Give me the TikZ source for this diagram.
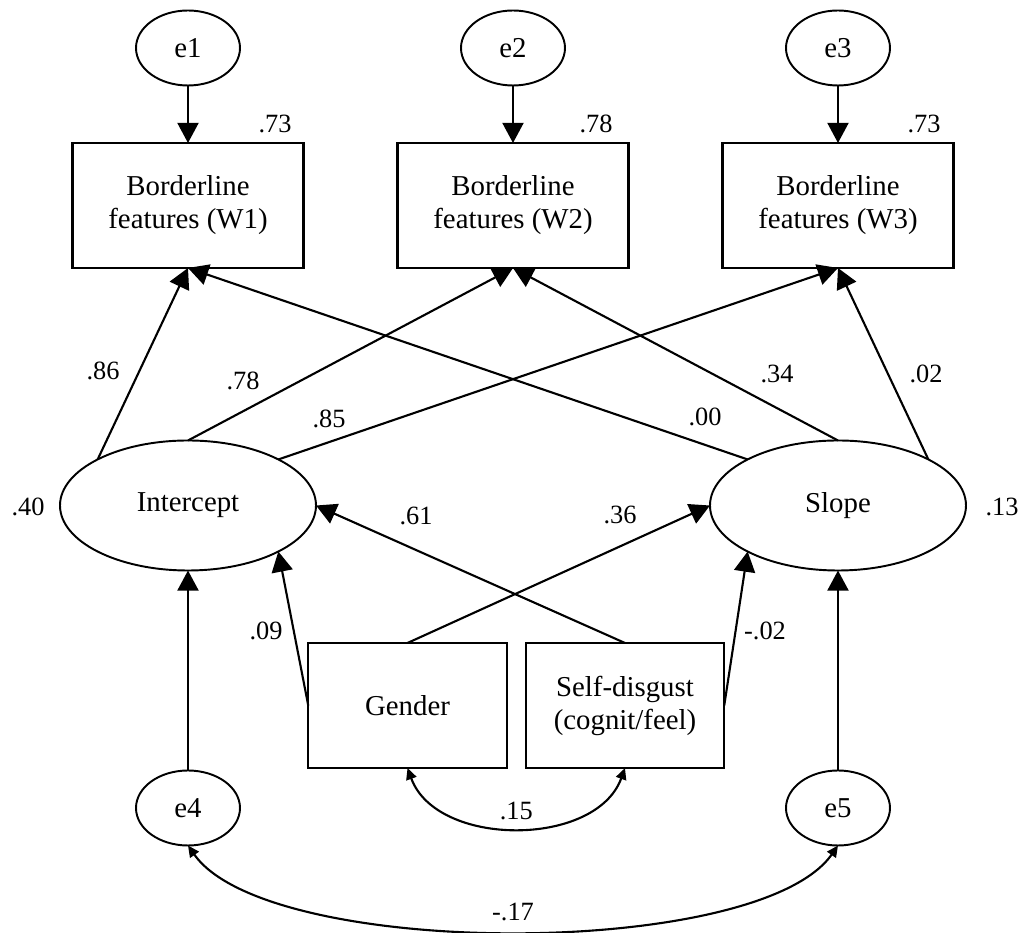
\documentclass[tikz,border=0pt]{standalone}
\usepackage{fontspec}
\setmainfont{Liberation Serif}
\usepackage{tikz}
\usetikzlibrary{shapes.geometric, arrows.meta}
\tikzstyle{indicator} = [rectangle, 
minimum width=4.62cm, 
minimum height=2.5cm, 
text centered, align=center, 
inner sep=0pt, outer sep=0pt,
draw=black, line width=1.2pt]
\tikzstyle{predictor} = [rectangle, 
minimum width=3.97cm, 
minimum height=2.5cm, 
text centered, align=center, 
inner sep=0pt, outer sep=0pt,
draw=black, line width=1.2pt]
\tikzstyle{latent} = [ellipse, 
minimum width=5.12cm, 
minimum height=2.6cm, 
inner sep=0pt, outer sep=0pt,
draw=black, line width=1.1pt]
\tikzstyle{errvar} = [ellipse, 
minimum width=2.08cm, 
minimum height=1.5cm, 
inner sep=0pt, outer sep=0pt,
draw=black, line width=1.1pt]
\tikzstyle{coef} = [inner sep=0pt, font=\fontsize{15}{17}\selectfont]
\tikzstyle{arrow} = [line width=1.2pt,-{Triangle[length=11.5pt,width=12pt]}]
\tikzstyle{covar} = [line width=1.2pt,{Triangle[length=6.5pt,width=6pt]}-{Triangle[length=6.5pt,width=6pt]}]

\begin{document}
\begin{tikzpicture}[font=\fontsize{16.4}{18.8}\selectfont]
\useasboundingbox (-3.76,4.11) rectangle (16.72,-14.55);

\node (W1) [indicator] {Borderline\\features (W1)};
\node (W2) [indicator, right of=W1, node distance=6.5cm] {Borderline\\features (W2)};
\node (W3) [indicator, right of=W2, node distance=6.5cm] {Borderline\\features (W3)};
\node (e1) [errvar, above of=W1, node distance=3.15cm] {e1};
\node (e2) [errvar, above of=W2, node distance=3.15cm] {e2};
\node (e3) [errvar, above of=W3, node distance=3.15cm] {e3};
\node (Intercept) [latent, below of=W1, node distance=6cm] {Intercept};
\node (Slope) [latent, right of=Intercept, node distance=13cm] {Slope};
\node (Gender) [predictor, below of=Intercept, node distance=4cm, xshift=4.39cm] {Gender};
\node (Disgust) [predictor, right of=Gender, node distance=4.35cm] {Self-disgust\\(cognit/feel)};
\node (e4) [errvar, below of=Intercept, node distance=6.05cm] {e4};
\node (e5) [errvar, below of=Slope, node distance=6.05cm] {e5};

% squared multiple correlations
\node (r1) [coef] at (1.74,1.63) {.73};
\node (r2) [coef] at (8.16,1.63) {.78};
\node (r3) [coef] at (14.72,1.63) {.73};
\node (rI) [coef] at (-3.2,-6.03) {.40};
\node (rS) [coef] at (16.28,-6.03) {.13};

% loadings
\node (c1) [coef] at (-1.7,-3.31) {.86};
\node (c2) [coef] at (1.1,-3.51) {.78};
\node (c3) [coef] at (2.82,-4.27) {.85};
\node (c4) [coef] at (10.34,-4.23) {.00};
\node (c5) [coef] at (11.78,-3.37) {.34};
\node (c6) [coef] at (14.76,-3.37) {.02};

% regressions
\node (c7) [coef] at (4.56,-6.21) {.61};
\node (c8) [coef] at (8.64,-6.19) {.36};
\node (c9) [coef] at (1.56,-8.51) {.09};
\node (c10) [coef] at (11.54,-8.51) {-.02};

\draw [arrow] (e1) -- (W1);
\draw [arrow] (e2) -- (W2);
\draw [arrow] (e3) -- (W3);
\draw [arrow] (Intercept.153) -- (W1.south);
\draw [arrow] (Intercept.north) -- (W2.south);
\draw [arrow] (Intercept.27) -- (W3.south);
\draw [arrow] (Slope.153) -- (W1.south);
\draw [arrow] (Slope.north) -- (W2.south);
\draw [arrow] (Slope.27) -- (W3.south);
\draw [arrow] (Gender.west) -- (Intercept.-27);
\draw [arrow] (Gender.north) -- (Slope.west);
\draw [arrow] (Disgust.north) -- (Intercept.east);
\draw [arrow] (Disgust.east) -- (Slope.-153);
\draw [arrow] (e4) -- (Intercept);
\draw [arrow] (e5) -- (Slope);
\draw [covar] (Gender.south) to[out=-70, in=-110] node[coef, above=4pt] {.15} (Disgust.south);
\draw [covar] (e4.south) to[out=-55, in=-125, looseness=.55] node[coef, above=5pt] {-.17} (e5.south);

\end{tikzpicture}
\end{document}
